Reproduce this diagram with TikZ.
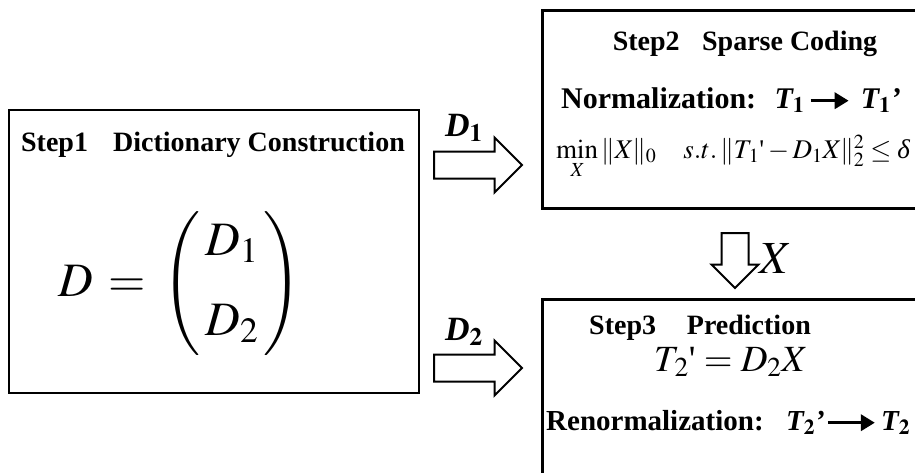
\documentclass[tikz,border=0pt]{standalone}
\usepackage{amsmath}
\usepackage{mathptmx}
\usepackage[no-math]{fontspec}
\setmainfont{Liberation Serif}
\usetikzlibrary{positioning,arrows.meta,shapes.arrows}
\newcommand{\qmark}{\mbox{\textquotesingle}}
\newcommand{\vD}{\mathit{D}}
\newcommand{\vT}{\mathit{T}}
\newcommand{\vX}{\mathit{X}}

\begin{document}
\begin{tikzpicture}[x=1pt, y=-1pt,
  box/.style={draw, line width=2.6pt, inner sep=0pt},
  ttl/.style={font=\fontsize{28}{32}\selectfont\bfseries, inner sep=1pt},
  row/.style={font=\fontsize{#1}{34}\selectfont\bfseries, inner sep=1pt},
  row/.default=30,
  eqn/.style={font=\fontsize{27}{32}\selectfont, inner sep=1pt},
  lbl/.style={font=\fontsize{34}{38}\selectfont\bfseries\itshape, inner sep=0pt},
  flow/.style={single arrow, draw, line width=2pt, inner sep=0pt, single arrow tip angle=90, single arrow head extend=14pt},
  arr/.style={-{Triangle[length=14pt, width=16pt]}, line width=3.5pt}]
\useasboundingbox (0,0) rectangle (915,472);
\clip (0,0) rectangle (915,472);

% step 1
\node[box, minimum width=410pt, minimum height=283pt] (step1) at (214,251.5) {};
\node[ttl] (title1) at (213,145) {Step1\hspace{0.9em}Dictionary Construction};
\node[font=\fontsize{48}{58}\selectfont, inner sep=0pt] (dict) at (180,284)
  {$\vD\,=\,\begin{pmatrix}\,\vD_{1}\,\\[22pt]\,\vD_{2}\,\end{pmatrix}$};

% flows
\node[flow, minimum height=88pt, anchor=tail] (flow1) at (433,165) {\rule{0pt}{25pt}};
\node[flow, minimum height=88pt, anchor=tail] (flow2) at (433,368) {\rule{0pt}{25pt}};
\node[lbl] (lab1) at (464,128) {D$_{\mathbf{1}}$};
\node[lbl] (lab2) at (464,332) {D$_{\mathbf{2}}$};

% step 2
\node[box, minimum width=430pt, minimum height=198pt, anchor=north west] (step2) at (541,9) {};
\node[ttl] (title2) at (745,44) {Step2\hspace{0.8em}Sparse Coding};
\node[row, anchor=base west] (norm) at (560,108) {Normalization:};
\node[row, base right=16pt of norm] (t1) {\itshape T$_{\mathbf{1}}$};
\node[row, base right=54pt of t1] (t1p) {\itshape T$_{\mathbf{1}}$’};
\draw[arr] ([xshift=5pt, yshift=5pt]t1.mid east) -- ([xshift=-11pt, yshift=5pt]t1p.mid west);
\node[eqn] (sparse) at (733,157)
  {$\min\limits_{\vX}\|\vX\|_{0}\quad s.t.\,\|\vT_{1}\qmark-\vD_{1}\vX\|_{2}^{2}\le\mbox{\itshape δ}$};

% code flow
\node[flow, minimum height=55pt, rotate=-90, anchor=tail, single arrow head extend=10pt] (flow3) at (735,232) {\rule{0pt}{25pt}};
\node[font=\fontsize{46}{50}\selectfont, inner sep=0pt] (xlab) at (775,258) {$\vX$};

% step 3
\node[box, minimum width=430pt, minimum height=200pt, anchor=north west] (step3) at (541,298) {};
\node[ttl] (title3) at (700,328) {Step3\hspace{1.1em}Prediction};
\node[font=\fontsize{37}{42}\selectfont, inner sep=0pt] (pred) at (730,362) {$\vT_{2}\qmark=\vD_{2}\vX$};
\node[row=29, anchor=base west] (renorm) at (545,430) {Renormalization:};
\node[row=29, base right=20pt of renorm] (t2p) {\itshape T$_{\mathbf{2}}$’};
\node[row=29, base right=54pt of t2p] (t2) {\itshape T$_{\mathbf{2}}$};
\draw[arr] ([xshift=2pt, yshift=5pt]t2p.mid east) -- ([xshift=-5pt, yshift=5pt]t2.mid west);
\end{tikzpicture}
\end{document}
